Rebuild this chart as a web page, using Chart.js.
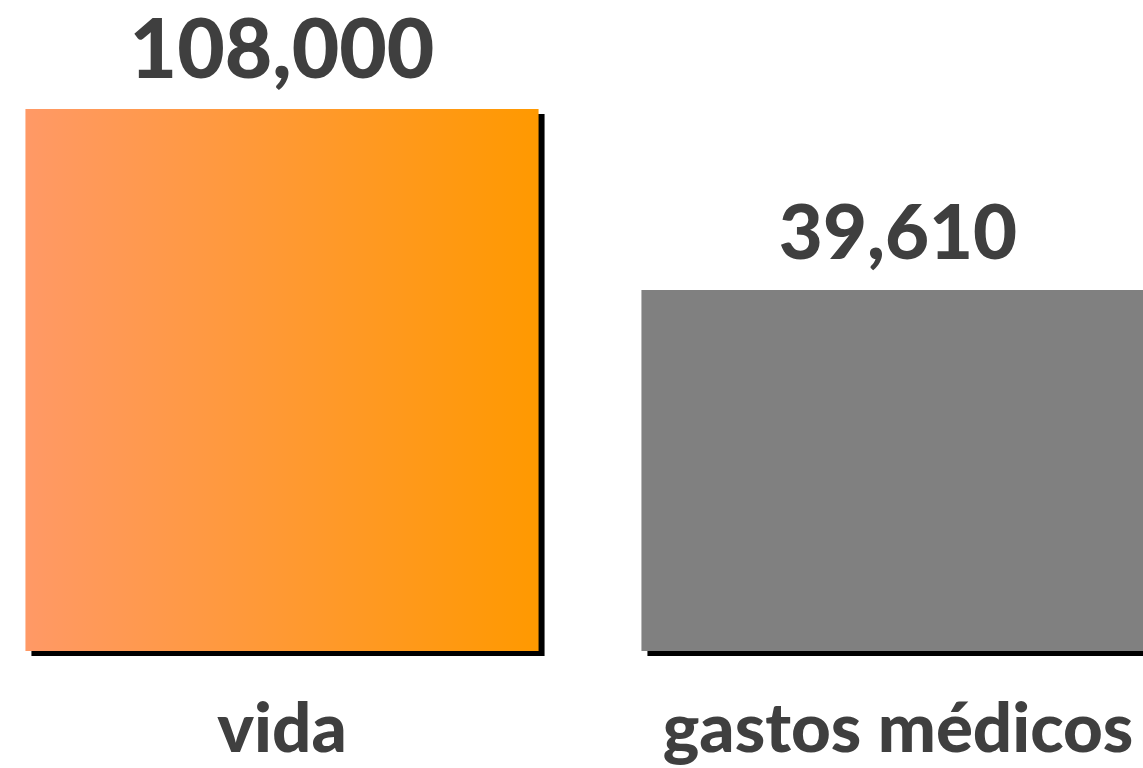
<!DOCTYPE html>
<html>
<head>
<meta charset="utf-8">
<script src="https://cdn.jsdelivr.net/npm/chart.js@4/dist/chart.umd.min.js"></script>
<style>
  html, body { margin: 0; padding: 0; background: #ffffff; overflow: hidden; width: 1143px; height: 768px; }
  #wrap { position: absolute; left: -26px; top: 0; width: 1232px; height: 809px; }
</style>
</head>
<body>
<div id="wrap"><canvas id="c" width="1232" height="809"></canvas></div>
<script>
// ---- data ----
const categories = ['vida', 'gastos médicos'];
const values = [108000, 39610];
// value-axis range (the bars in the reference are drawn from a floor below zero)
const axisMin = -96800;
const axisMax = 149200;

// ---- styles ----
const textColor = '#3f3f3f';
const fontFamily = 'Lato, "Open Sans", sans-serif';
const valueFontSizes = [82, 76];
const gradientStops = ['#ff9966', '#ff9900'];
const greyColor = '#808080';
const barPct = 0.833;

const shadowPlugin = {
  id: 'barShadow',
  beforeDatasetsDraw(chart) {
    const ctx = chart.ctx;
    ctx.save();
    ctx.shadowColor = '#000000';
    ctx.shadowBlur = 0;
    ctx.shadowOffsetX = 6;
    ctx.shadowOffsetY = 5;
  },
  afterDatasetsDraw(chart) {
    chart.ctx.restore();
  }
};

const valueLabelPlugin = {
  id: 'valueLabels',
  afterDraw(chart) {
    const ctx = chart.ctx;
    const meta = chart.getDatasetMeta(0);
    ctx.save();
    ctx.fillStyle = textColor;
    ctx.textAlign = 'center';
    ctx.textBaseline = 'alphabetic';
    meta.data.forEach((bar, i) => {
      const v = chart.data.datasets[0].data[i];
      ctx.font = '900 ' + valueFontSizes[i] + 'px ' + fontFamily;
      ctx.fillText(v.toLocaleString('en-US'), bar.x, bar.y - 31);
    });
    ctx.restore();
  }
};

function barColor(context) {
  const i = context.dataIndex;
  if (i !== 0) return greyColor;
  const chart = context.chart;
  const xs = chart.scales.x;
  if (!xs || !chart.chartArea) return gradientStops[1];
  const center = xs.getPixelForValue(i);
  const half = (xs.width / categories.length) * barPct / 2;
  const g = chart.ctx.createLinearGradient(center - half, 0, center + half, 0);
  g.addColorStop(0, gradientStops[0]);
  g.addColorStop(1, gradientStops[1]);
  return g;
}

new Chart(document.getElementById('c'), {
  type: 'bar',
  data: {
    labels: categories,
    datasets: [{
      data: values,
      base: axisMin,
      backgroundColor: barColor,
      borderWidth: 0,
      categoryPercentage: 1,
      barPercentage: barPct,
      clip: false
    }]
  },
  options: {
    responsive: false,
    animation: false,
    layout: { padding: 0 },
    plugins: { legend: { display: false }, tooltip: { enabled: false } },
    scales: {
      x: {
        grid: { display: false, drawTicks: false },
        border: { display: false },
        ticks: {
          color: textColor,
          padding: 44.5,
          font: { family: fontFamily, size: 69, weight: '900', lineHeight: 1 }
        }
      },
      y: {
        display: false,
        min: axisMin,
        max: axisMax
      }
    }
  },
  plugins: [shadowPlugin, valueLabelPlugin]
});
</script>
</body>
</html>
